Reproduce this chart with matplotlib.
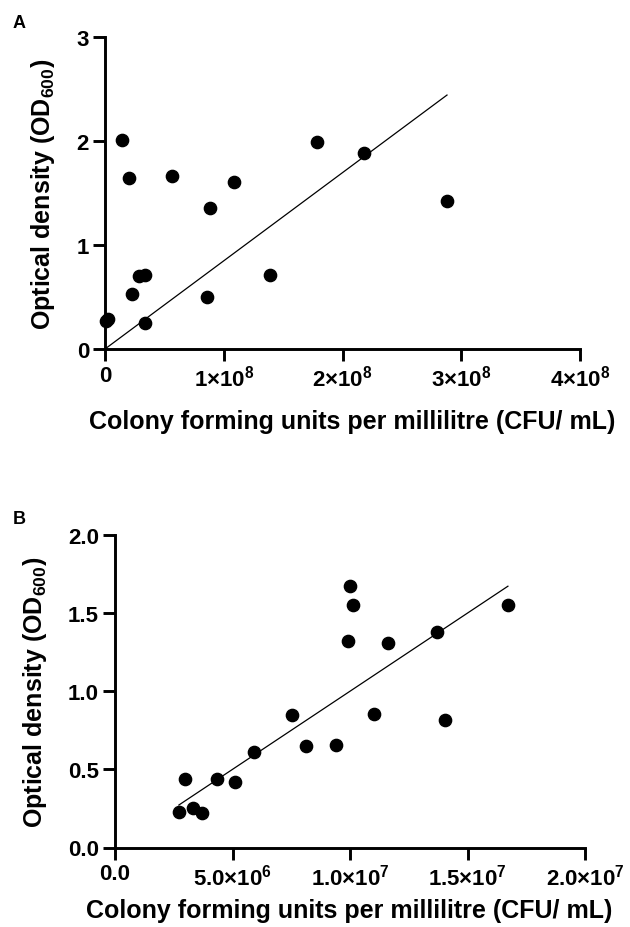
import numpy as np
import matplotlib
matplotlib.use("Agg")
import matplotlib.pyplot as plt

plt.rcParams['font.family'] = ['Liberation Sans', 'DejaVu Sans']
plt.rcParams['font.weight'] = 'bold'
plt.rcParams['mathtext.fontset'] = 'custom'
plt.rcParams['mathtext.rm'] = 'Liberation Sans:bold'
plt.rcParams['mathtext.it'] = 'Liberation Sans:bold'
plt.rcParams['mathtext.bf'] = 'Liberation Sans:bold'

# Panel A data (CFU/mL, OD600)
cfu_a = [0.01e8, 0.028e8, 0.146e8, 0.20e8, 0.225e8, 0.286e8, 0.337e8, 0.337e8,
         0.567e8, 0.862e8, 0.885e8, 1.09e8, 1.39e8, 1.786e8, 2.18e8, 2.88e8]
od_a = [0.27, 0.29, 2.01, 1.64, 0.53, 0.70, 0.715, 0.25,
        1.66, 0.50, 1.36, 1.61, 0.71, 1.99, 1.88, 1.42]

# Panel B data
cfu_b = [2.72e6, 3.33e6, 3.72e6, 2.98e6, 4.33e6, 5.12e6, 5.93e6, 7.52e6, 8.13e6,
         9.42e6, 11.03e6, 14.03e6, 9.93e6, 11.62e6, 13.72e6, 10.01e6, 10.13e6, 16.72e6]
od_b = [0.226, 0.252, 0.222, 0.436, 0.436, 0.421, 0.609, 0.846, 0.647,
        0.656, 0.857, 0.818, 1.32, 1.31, 1.378, 1.671, 1.551, 1.551]

xticks_a = [0, 1e8, 2e8, 3e8, 4e8]
xlabels_a = ['0', r'1×10$^{8}$', r'2×10$^{8}$', r'3×10$^{8}$', r'4×10$^{8}$']
yticks_a = [0, 1, 2, 3]
ylabels_a = ['0', '1', '2', '3']

xticks_b = [0, 5e6, 1e7, 1.5e7, 2e7]
xlabels_b = ['0.0', r'5.0×10$^{6}$', r'1.0×10$^{7}$', r'1.5×10$^{7}$', r'2.0×10$^{7}$']
yticks_b = [0, 0.5, 1.0, 1.5, 2.0]
ylabels_b = ['0.0', '0.5', '1.0', '1.5', '2.0']

xlab = 'Colony forming units per millilitre (CFU/ mL)'
ylab = r'Optical density (OD$_{600}$)'


def panel(ax, x, y, xt, xl, yt, yl, xlab_y, ylab_x):
    x = np.array(x)
    y = np.array(y)
    # regression through origin
    k = np.sum(x * y) / np.sum(x * x)
    xs = np.array([x.min(), x.max()])
    ax.plot(xs, k * xs, color='black', lw=0.9, zorder=2)
    ax.scatter(x, y, s=78, color='black', zorder=3, clip_on=False)
    ax.set_xlim(xt[0], xt[-1])
    ax.set_ylim(yt[0], yt[-1])
    ax.set_xticks(xt)
    ax.set_xticklabels(xl)
    ax.set_yticks(yt)
    ax.set_yticklabels(yl)
    for s in ['top', 'right']:
        ax.spines[s].set_visible(False)
    for s in ['left', 'bottom']:
        ax.spines[s].set_linewidth(2.1)
    ax.tick_params(width=2.1, length=8.5, labelsize=16, pad=3)
    ax.set_xlabel(xlab, fontsize=18, fontweight='bold', va='center')
    ax.set_ylabel(ylab, fontsize=18, fontweight='bold', va='center')
    ax.xaxis.set_label_coords(0.5, xlab_y)
    ax.yaxis.set_label_coords(ylab_x, 0.5)


fig = plt.figure(figsize=(6.3, 9.28), dpi=100)
ax1 = fig.add_axes([105 / 630, 1 - 350 / 928, 475 / 630, 312 / 928])
panel(ax1, cfu_a, od_a, xticks_a, xlabels_a, yticks_a, ylabels_a,
      (350 - 422) / 312, (43 - 105) / 475)
ax1.xaxis.label.set_x((352 - 105) / 475)
ax2 = fig.add_axes([115 / 630, 1 - 848.5 / 928, 470 / 630, 312.5 / 928])
panel(ax2, cfu_b, od_b, xticks_b, xlabels_b, yticks_b, ylabels_b,
      (848.5 - 911) / 312.5, (35 - 115) / 470)
ax2.xaxis.label.set_x((349 - 115) / 470)

fig.text(13 / 630, 1 - 23.5 / 928, 'A', fontsize=13, fontweight='bold', va='center')
fig.text(13 / 630, 1 - 520 / 928, 'B', fontsize=13, fontweight='bold', va='center')

fig.savefig('out.png', dpi=100)
